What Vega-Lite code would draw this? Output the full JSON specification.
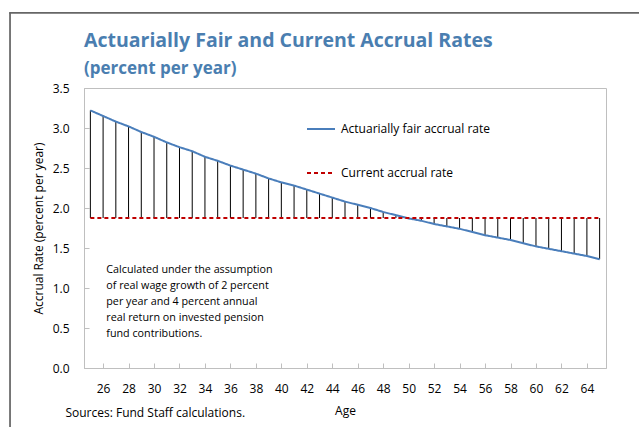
{
  "$schema": "https://vega.github.io/schema/vega-lite/v6.json",
  "width": 522,
  "height": 280,
  "autosize": "none",
  "padding": {"left": 84, "top": 88, "right": 33, "bottom": 59},
  "background": "white",
  "config": {
    "view": {"stroke": "#bfbfbf", "strokeWidth": 1},
    "font": "Open Sans",
    "axisY": {
      "values": [0, 0.5, 1, 1.5, 2, 2.5, 3, 3.5],
      "format": ".1f",
      "labelOverlap": false,
      "tickSize": -5,
      "tickColor": "#bfbfbf",
      "domainColor": "#bfbfbf",
      "grid": false,
      "labelFontSize": 12,
      "labelColor": "#000000",
      "labelPadding": 20,
      "titleFontSize": 12,
      "titleFontWeight": "normal",
      "titleColor": "#000000",
      "titlePadding": 7
    },
    "axisX": {
      "values": [25, 30, 35, 40, 45, 50, 55, 60, 65],
      "format": "d",
      "labelOverlap": false,
      "tickSize": -5,
      "tickColor": "#bfbfbf",
      "domainColor": "#bfbfbf",
      "grid": false,
      "labelFontSize": 12,
      "labelColor": "#000000",
      "labelPadding": 20,
      "titleFontSize": 12,
      "titleFontWeight": "normal",
      "titleColor": "#000000",
      "titlePadding": 11
    }
  },
  "title": {
    "text": "Actuarially Fair and Current Accrual Rates",
    "subtitle": "(percent per year)",
    "anchor": "start",
    "frame": "group",
    "font": "Open Sans",
    "fontSize": 19.5,
    "fontWeight": "bold",
    "color": "#4a7eb0",
    "subtitleFont": "Open Sans",
    "subtitleFontSize": 17,
    "subtitleFontWeight": "bold",
    "subtitleColor": "#4a7eb0",
    "subtitlePadding": 9,
    "offset": -66
  },
  "data": {
    "values": [
      {"age": 25, "Actuarially fair accrual rate": 3.22, "Current accrual rate": 1.875},
      {"age": 26, "Actuarially fair accrual rate": 3.15, "Current accrual rate": 1.875},
      {"age": 27, "Actuarially fair accrual rate": 3.08, "Current accrual rate": 1.875},
      {"age": 28, "Actuarially fair accrual rate": 3.02, "Current accrual rate": 1.875},
      {"age": 29, "Actuarially fair accrual rate": 2.95, "Current accrual rate": 1.875},
      {"age": 30, "Actuarially fair accrual rate": 2.89, "Current accrual rate": 1.875},
      {"age": 31, "Actuarially fair accrual rate": 2.82, "Current accrual rate": 1.875},
      {"age": 32, "Actuarially fair accrual rate": 2.76, "Current accrual rate": 1.875},
      {"age": 33, "Actuarially fair accrual rate": 2.71, "Current accrual rate": 1.875},
      {"age": 34, "Actuarially fair accrual rate": 2.64, "Current accrual rate": 1.875},
      {"age": 35, "Actuarially fair accrual rate": 2.59, "Current accrual rate": 1.875},
      {"age": 36, "Actuarially fair accrual rate": 2.53, "Current accrual rate": 1.875},
      {"age": 37, "Actuarially fair accrual rate": 2.48, "Current accrual rate": 1.875},
      {"age": 38, "Actuarially fair accrual rate": 2.43, "Current accrual rate": 1.875},
      {"age": 39, "Actuarially fair accrual rate": 2.37, "Current accrual rate": 1.875},
      {"age": 40, "Actuarially fair accrual rate": 2.32, "Current accrual rate": 1.875},
      {"age": 41, "Actuarially fair accrual rate": 2.28, "Current accrual rate": 1.875},
      {"age": 42, "Actuarially fair accrual rate": 2.23, "Current accrual rate": 1.875},
      {"age": 43, "Actuarially fair accrual rate": 2.18, "Current accrual rate": 1.875},
      {"age": 44, "Actuarially fair accrual rate": 2.13, "Current accrual rate": 1.875},
      {"age": 45, "Actuarially fair accrual rate": 2.08, "Current accrual rate": 1.875},
      {"age": 46, "Actuarially fair accrual rate": 2.04, "Current accrual rate": 1.875},
      {"age": 47, "Actuarially fair accrual rate": 2.0, "Current accrual rate": 1.875},
      {"age": 48, "Actuarially fair accrual rate": 1.95, "Current accrual rate": 1.875},
      {"age": 49, "Actuarially fair accrual rate": 1.91, "Current accrual rate": 1.875},
      {"age": 50, "Actuarially fair accrual rate": 1.87, "Current accrual rate": 1.875},
      {"age": 51, "Actuarially fair accrual rate": 1.84, "Current accrual rate": 1.875},
      {"age": 52, "Actuarially fair accrual rate": 1.8, "Current accrual rate": 1.875},
      {"age": 53, "Actuarially fair accrual rate": 1.77, "Current accrual rate": 1.875},
      {"age": 54, "Actuarially fair accrual rate": 1.74, "Current accrual rate": 1.875},
      {"age": 55, "Actuarially fair accrual rate": 1.7, "Current accrual rate": 1.875},
      {"age": 56, "Actuarially fair accrual rate": 1.66, "Current accrual rate": 1.875},
      {"age": 57, "Actuarially fair accrual rate": 1.63, "Current accrual rate": 1.875},
      {"age": 58, "Actuarially fair accrual rate": 1.6, "Current accrual rate": 1.875},
      {"age": 59, "Actuarially fair accrual rate": 1.56, "Current accrual rate": 1.875},
      {"age": 60, "Actuarially fair accrual rate": 1.52, "Current accrual rate": 1.875},
      {"age": 61, "Actuarially fair accrual rate": 1.49, "Current accrual rate": 1.875},
      {"age": 62, "Actuarially fair accrual rate": 1.46, "Current accrual rate": 1.875},
      {"age": 63, "Actuarially fair accrual rate": 1.43, "Current accrual rate": 1.875},
      {"age": 64, "Actuarially fair accrual rate": 1.4, "Current accrual rate": 1.875},
      {"age": 65, "Actuarially fair accrual rate": 1.36, "Current accrual rate": 1.875}
    ]
  },
  "layer": [
    {
      "mark": {"type": "rule", "color": "#000000", "strokeWidth": 1},
      "encoding": {
        "x": {
          "field": "age",
          "type": "quantitative",
          "scale": {"domain": [24.5, 65.5], "nice": false, "zero": false},
          "axis": {"title": "Age"}
        },
        "y": {
          "field": "Current accrual rate",
          "type": "quantitative",
          "scale": {"domain": [0, 3.5], "nice": false},
          "axis": {"title": "Accrual Rate (percent per year)"}
        },
        "y2": {"field": "Actuarially fair accrual rate"}
      }
    },
    {
      "transform": [{"fold": ["Actuarially fair accrual rate", "Current accrual rate"], "as": ["series", "rate"]}],
      "mark": {"type": "line", "strokeWidth": 2},
      "encoding": {
        "x": {"field": "age", "type": "quantitative", "axis": {"title": "Age"}},
        "y": {
          "field": "rate",
          "type": "quantitative",
          "axis": {"title": "Accrual Rate (percent per year)"}
        },
        "color": {
          "field": "series",
          "type": "nominal",
          "scale": {"domain": ["Actuarially fair accrual rate", "Current accrual rate"], "range": ["#4a7ebb", "#c00000"]},
          "legend": {
            "orient": "none",
            "legendX": 222,
            "legendY": 26,
            "title": null,
            "padding": 0,
            "symbolType": "stroke",
            "symbolSize": 784,
            "symbolStrokeWidth": 2,
            "labelFontSize": 12,
            "labelColor": "#000000",
            "labelOffset": 5,
            "rowPadding": 23
          }
        },
        "strokeDash": {
          "field": "series",
          "type": "nominal",
          "scale": {"domain": ["Actuarially fair accrual rate", "Current accrual rate"], "range": [[1, 0], [4, 3]]},
          "legend": {
            "orient": "none",
            "legendX": 222,
            "legendY": 26,
            "title": null,
            "padding": 0,
            "symbolType": "stroke",
            "symbolSize": 784,
            "symbolStrokeWidth": 2,
            "labelFontSize": 12,
            "labelColor": "#000000",
            "labelOffset": 5,
            "rowPadding": 23
          }
        }
      }
    },
    {
      "data": {"values": [{}]},
      "mark": {"type": "text", "align": "left", "baseline": "top", "fontSize": 10.75, "lineHeight": 16, "color": "#000000", "font": "Open Sans",
        "text": ["Calculated under the assumption", "of real wage growth of 2 percent", "per year and 4 percent annual", "real return on invested pension", "fund contributions."]},
      "encoding": {
        "x": {"datum": 26.25, "type": "quantitative", "axis": {"title": "Age"}},
        "y": {"datum": 1.2875, "type": "quantitative", "axis": {"title": "Accrual Rate (percent per year)"}}
      }
    },
    {
      "data": {"values": [{}]},
      "mark": {"type": "text", "align": "left", "baseline": "middle", "fontSize": 12, "color": "#000000", "font": "Open Sans", "text": "Sources: Fund Staff calculations."},
      "encoding": {
        "x": {"datum": 23.04, "type": "quantitative", "axis": {"title": "Age"}},
        "y": {"datum": -0.5625, "type": "quantitative", "axis": {"title": "Accrual Rate (percent per year)"}}
      }
    },
    {
      "data": {"values": [{}]},
      "mark": {"type": "rule", "color": "#666666", "strokeWidth": 1.75},
      "encoding": {
        "x": {"datum": 18.69, "type": "quantitative", "axis": {"title": "Age"}},
        "y": {"datum": 4.44, "type": "quantitative", "axis": {"title": "Accrual Rate (percent per year)"}},
        "y2": {"datum": -1.2}
      }
    },
    {
      "data": {"values": [{}]},
      "mark": {"type": "rule", "color": "#666666", "strokeWidth": 1.75},
      "encoding": {
        "x": {"datum": 18.62, "type": "quantitative", "axis": {"title": "Age"}},
        "x2": {"datum": 70},
        "y": {"datum": 4.44, "type": "quantitative", "axis": {"title": "Accrual Rate (percent per year)"}}
      }
    }
  ]
}
